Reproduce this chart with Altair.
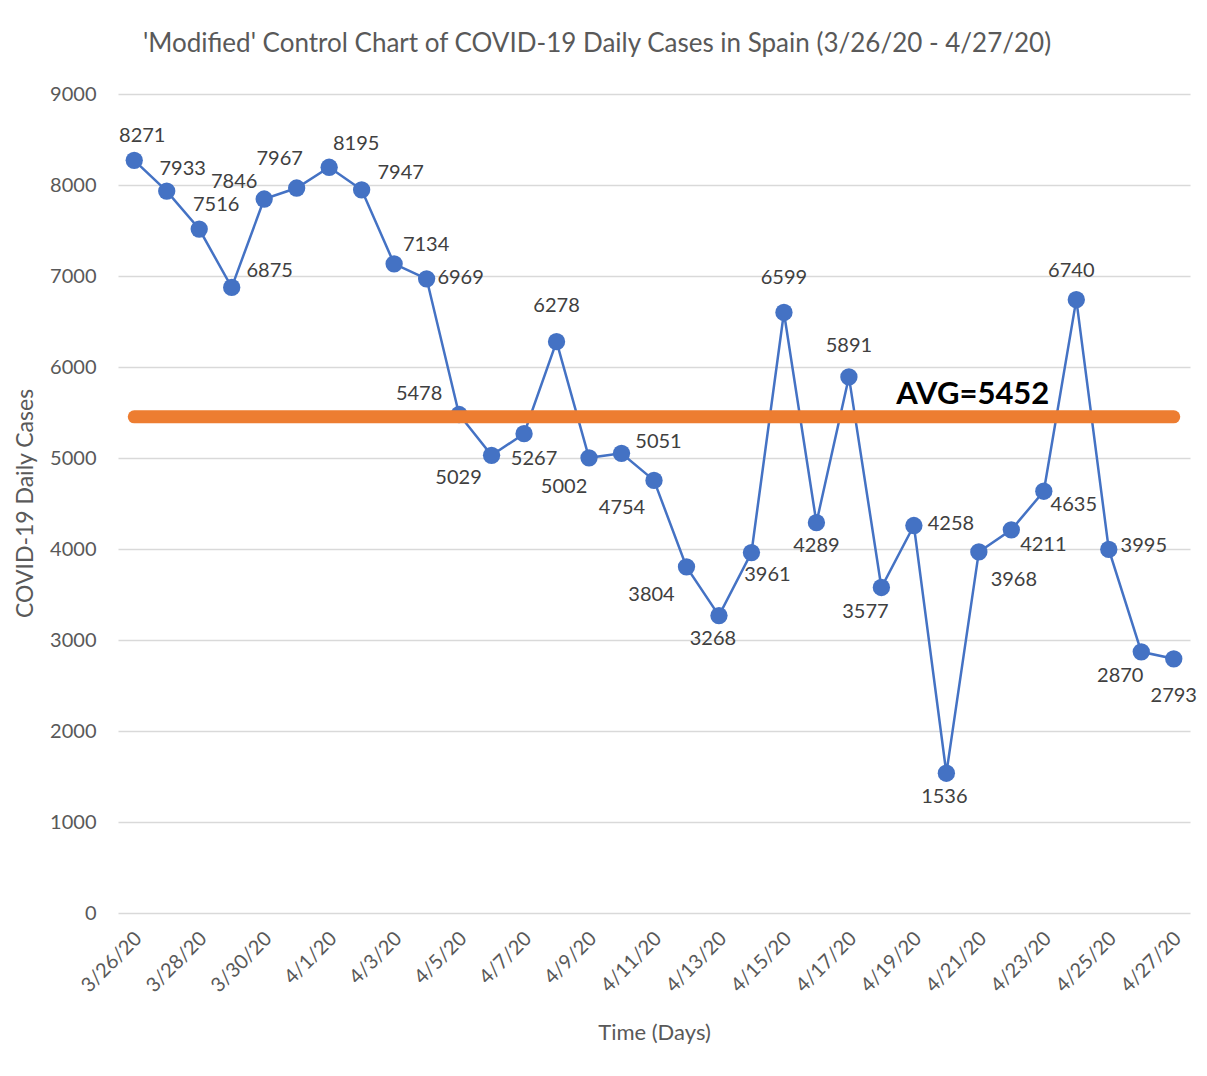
import altair as alt
import pandas as pd

dates = ["3/26/20", "3/27/20", "3/28/20", "3/29/20", "3/30/20", "3/31/20", "4/1/20",
         "4/2/20", "4/3/20", "4/4/20", "4/5/20", "4/6/20", "4/7/20", "4/8/20",
         "4/9/20", "4/10/20", "4/11/20", "4/12/20", "4/13/20", "4/14/20", "4/15/20",
         "4/16/20", "4/17/20", "4/18/20", "4/19/20", "4/20/20", "4/21/20", "4/22/20",
         "4/23/20", "4/24/20", "4/25/20", "4/26/20", "4/27/20"]
cases = [8271, 7933, 7516, 6875, 7846, 7967, 8195, 7947, 7134, 6969, 5478, 5029,
         5267, 6278, 5002, 5051, 4754, 3804, 3268, 3961, 6599, 4289, 5891, 3577,
         4258, 1536, 3968, 4211, 4635, 6740, 3995, 2870, 2793]
avg_value = 5452
avg_label = "AVG=5452"

# label placement (pixel offsets from each point) - styling only
label_dx = [8, 16, 17, 38, -30, -17, 27, 39, 32, 34, -40, -33, 10, 0, -25, 37, -32,
            -35, -6, 16, 0, 0, 0, -16, 37, -2, 35, 32, 30, -5, 35, -21, 0]
label_dy = [-24, -22, -24, -16, -17, -29, -23, -17, -19, -1, -21, 23, 25, -36, 29, -11,
            28, 28, 23, 22, -34, 23, -31, 25, -2, 24, 28, 15, 14, -29, -3, 24, 37]

df = pd.DataFrame({"date": dates, "cases": cases, "dx": label_dx, "dy": label_dy})
avg_df = pd.DataFrame({"date": [dates[0], dates[-1]], "cases": [avg_value, avg_value]})
avg_txt = pd.DataFrame({"date": ["4/21/20"], "cases": [avg_value], "label": [avg_label]})

FONT = "Lato"
BLUE = "#4472C4"

x = alt.X("date:O", sort=dates, title="Time (Days)",
          axis=alt.Axis(values=dates[::2], labelAngle=315, labelAlign="right",
                        labelBaseline="middle", labelFontSize=20, labelColor="#595959",
                        labelFont=FONT, labelPadding=22, labelOffset=4, ticks=False,
                        domain=False, grid=False, titleFont=FONT, titleFontSize=22,
                        titleFontWeight="normal", titleColor="#595959",
                        titleY=119, titleBaseline="middle"))
y = alt.Y("cases:Q", title="COVID-19 Daily Cases",
          scale=alt.Scale(domain=[0, 9000], nice=False),
          axis=alt.Axis(values=list(range(0, 9001, 1000)), format="d", labelFontSize=20,
                        labelColor="#595959", labelFont=FONT, labelPadding=22,
                        ticks=False, domain=False, gridColor="#d9d9d9", gridWidth=1.5,
                        titleFont=FONT, titleFontSize=23, titleFontWeight="normal",
                        titleColor="#595959", titleAngle=270, titleX=-93, titleY=409,
                        titleAlign="center", titleBaseline="middle"))

base = alt.Chart(df)
line = base.mark_line(color=BLUE, strokeWidth=2.5).encode(x=x, y=y)
pts = base.mark_circle(color=BLUE, size=300, opacity=1).encode(x=x, y=y)
avg_line = alt.Chart(avg_df).mark_line(color="#ED7D31", strokeWidth=13,
                                       strokeCap="round").encode(x=x, y=y)
labels = base.mark_text(font=FONT, fontSize=20, color="#404040",
                        dx=alt.ExprRef(expr="datum.dx"),
                        dy=alt.ExprRef(expr="datum.dy")).encode(
    x=x, y=y, text=alt.Text("cases:Q", format="d"))
avg_text = alt.Chart(avg_txt).mark_text(font=FONT, fontSize=31, fontWeight="bold",
                                        color="#000000", dx=-6, dy=-13,
                                        baseline="alphabetic").encode(
    x=x, y=y, text="label:N")

chart = alt.layer(line, pts, avg_line, labels, avg_text).properties(
    width=1072, height=819,
    title=alt.TitleParams(
        "'Modified' Control Chart of COVID-19 Daily Cases in Spain (3/26/20 - 4/27/20)",
        font=FONT, fontSize=26, fontWeight="normal", color="#595959",
        anchor="middle", frame="group", dx=-57, offset=27),
    autosize=alt.AutoSizeParams(type="none"),
    padding={"left": 110, "top": 86, "right": 9, "bottom": 155},
).configure_view(stroke=None)

chart.save("out.html", embed_options={"renderer": "svg", "actions": False})
